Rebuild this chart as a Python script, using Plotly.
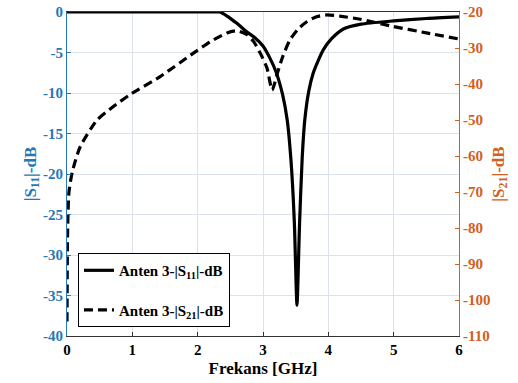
import plotly.graph_objects as go

# Data
s11_freq = [0, 0.5, 1.0, 1.5, 2.0, 2.2, 2.34, 2.45, 2.6, 2.76, 2.88, 3.0, 3.1, 3.2, 3.3, 3.37, 3.43, 3.48, 3.52, 3.56, 3.6, 3.64, 3.7, 3.77, 3.85, 3.92, 4.05, 4.23, 4.5, 5.0, 5.5, 6.0]
s11_db = [0, 0, 0, 0, 0, 0, 0, -0.5, -1.4, -2.5, -3.2, -4.2, -5.6, -7.4, -10.2, -13.3, -18.5, -26, -36.2, -26, -18, -13.3, -9.8, -7.5, -5.9, -4.7, -3.3, -2.1, -1.5, -1.1, -0.8, -0.6]

s21_freq = [0, 0.01, 0.03, 0.08, 0.2, 0.46, 0.7, 0.96, 1.42, 1.93, 2.19, 2.45, 2.6, 2.75, 2.86, 2.96, 3.06, 3.14, 3.22, 3.3, 3.41, 3.55, 3.67, 3.82, 3.98, 4.2, 4.49, 4.99, 5.5, 6.0]
s21_db = [-106, -80, -70, -64.5, -57.5, -50, -46.4, -43, -38, -31.5, -28.3, -25.8, -25.2, -26.2, -28.3, -31.5, -35.5, -41.7, -37, -32.5, -27.8, -24.5, -22.7, -21.3, -20.8, -21.2, -22, -24, -25.8, -27.5]

x_ticks = [0, 1, 2, 3, 4, 5, 6]
y1_ticks = [0, -5, -10, -15, -20, -25, -30, -35, -40]
y2_ticks = [-20, -30, -40, -50, -60, -70, -80, -90, -100, -110]

BLUE = "#2678b4"
ORANGE = "#d2601e"
FONT = "Liberation Serif"

fig = go.Figure()
fig.add_trace(go.Scatter(
    x=s11_freq, y=s11_db, mode="lines", line=dict(color="black", width=3.2, shape="spline", smoothing=0.6),
    name="<b>Anten 3-|S<sub>11</sub>|-dB</b>", legendgroup="a", yaxis="y"))
fig.add_trace(go.Scatter(
    x=s21_freq, y=s21_db, mode="lines", line=dict(color="black", width=3.2, dash="9px,5px", shape="spline", smoothing=0.6),
    name="<b>Anten 3-|S<sub>21</sub>|-dB</b>", legendgroup="b", yaxis="y2"))

fig.update_layout(
    width=518, height=383,
    margin=dict(l=67, r=59, t=12, b=47, autoexpand=False),
    paper_bgcolor="white", plot_bgcolor="white",
    font=dict(family=FONT, size=13, color="black"),
    showlegend=True,
    legend=dict(x=0.028, y=0.256, xanchor="left", yanchor="top",
                bgcolor="white", bordercolor="black", borderwidth=1,
                font=dict(family=FONT, size=15),
                tracegroupgap=17),
    xaxis=dict(range=[0, 6], tickvals=x_ticks, ticktext=[f"<b>{v}</b>" for v in x_ticks],
               showgrid=True, gridcolor="#dde3ea",
               zeroline=False, showline=True, linecolor="#333333", mirror=True, linewidth=1,
               ticks="inside", ticklen=4, tickcolor="#333333", automargin=False,
               title=dict(text="<b>Frekans [GHz]</b>", font=dict(family=FONT, size=17), standoff=5),
               tickfont=dict(family=FONT, size=15)),
    yaxis=dict(range=[-40, 0], tickvals=y1_ticks, ticktext=[f"<b>{v}</b>" for v in y1_ticks],
               showgrid=True, gridcolor="#dde3ea",
               zeroline=False, showline=True, linecolor=BLUE, linewidth=1,
               ticks="inside", ticklen=4, tickcolor=BLUE, automargin=False,
               tickfont=dict(family=FONT, size=15, color=BLUE),
               title=dict(text="<b>|S<sub>11</sub>|-dB</b>", font=dict(family=FONT, size=17, color=BLUE), standoff=2)),
    yaxis2=dict(range=[-110, -20], tickvals=y2_ticks, ticktext=[f"<b>{v}</b>" for v in y2_ticks],
                overlaying="y", side="right",
                showgrid=False, zeroline=False, showline=True, linecolor=ORANGE, linewidth=1,
                ticks="inside", ticklen=4, tickcolor=ORANGE, automargin=False,
                tickfont=dict(family=FONT, size=15, color=ORANGE),
                title=dict(text="<b>|S<sub>21</sub>|-dB</b>", font=dict(family=FONT, size=17, color=ORANGE), standoff=2)),
)

fig.write_html("out.html", config={"displayModeBar": False},
               post_script="document.body.style.margin='0';document.body.style.padding='0';")
